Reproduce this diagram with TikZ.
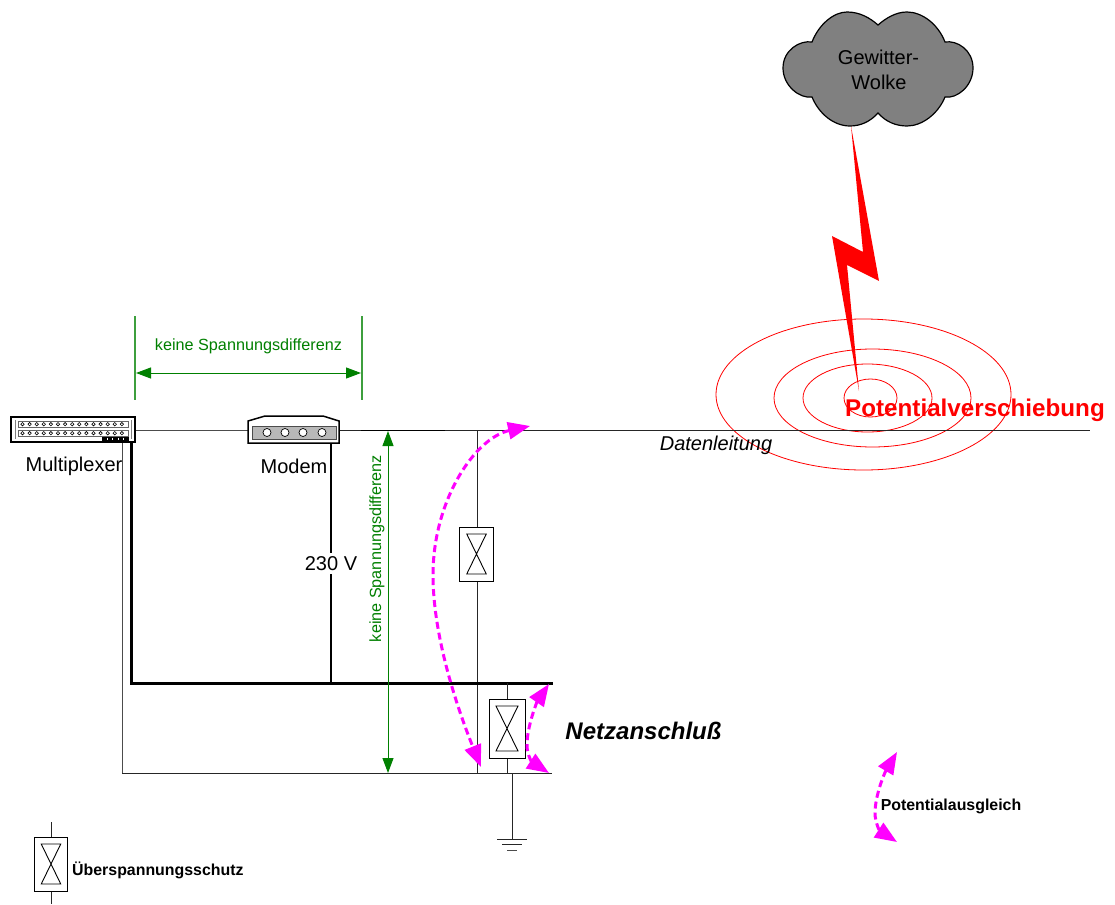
\documentclass[tikz,border=0pt]{standalone}
\usepackage{fontspec}
\setmainfont{Liberation Sans}
\usetikzlibrary{arrows.meta}
\newcommand{\fs}[1]{\fontsize{#1}{#1}\selectfont}
\definecolor{dgreen}{HTML}{008000}
\definecolor{lgreen}{HTML}{3D9F3D}
\definecolor{mag}{HTML}{FF00FF}
\definecolor{red1}{HTML}{FF0000}
\tikzset{
  x=1pt,y=-1pt,
  lbl/.style={inner sep=0pt,text=#1},
  lbl/.default=black,
  wire/.style={draw=black!85,line width=1pt},
  busbar/.style={draw=black,line width=3pt},
  medwire/.style={draw=black,line width=1.5pt},
  surge/.style={draw=black,fill=white,line width=1pt,inner sep=0pt,minimum width=#1*0.62pt,minimum height=#1*1pt,
    path picture={
      \draw[line width=.9pt] ([shift={(7pt,-7pt)}]path picture bounding box.north west)
        -- ([shift={(-7pt,7pt)}]path picture bounding box.south east)
        -- ([shift={(7pt,7pt)}]path picture bounding box.south west)
        -- ([shift={(-7pt,-7pt)}]path picture bounding box.north east) -- cycle;
    }},
  gdim/.style={draw=dgreen,line width=1pt,{Triangle[length=15pt,width=11pt]}-{Triangle[length=15pt,width=11pt]}},
  gext/.style={draw=lgreen,line width=1.1pt},
  ring/.style={draw=red1,line width=.8pt},
  equal/.style={draw=mag,line width=3pt,dash pattern=on 7pt off 4pt,
    {Triangle[length=22pt,width=17pt]}-{Triangle[length=22pt,width=17pt]}},
}
\begin{document}
\begin{tikzpicture}
\useasboundingbox (0,0) rectangle (1115,904);
\fill[white] (0,0) rectangle (1115,904);

% rings
\draw[ring] (870.5,398) ellipse [x radius=26.5,y radius=19];
\draw[ring] (867.5,398) ellipse [x radius=64.5,y radius=34];
\draw[ring] (872.5,398) ellipse [x radius=98.5,y radius=49];
\draw[ring] (863.5,394.5) ellipse [x radius=147.5,y radius=75.5];

% cloud
\path[draw=black,line width=1.2pt,fill=black!50]
  (878,25) .. controls (886,18) and (896,12) .. (907,12)
  .. controls (922,12) and (938,24) .. (945,42)
  .. controls (957,40) and (973,50) .. (973,68)
  .. controls (973,86) and (957,99) .. (945,97)
  .. controls (938,114) and (922,126) .. (907,126)
  .. controls (896,126) and (886,122) .. (878,113)
  .. controls (870,122) and (860,126) .. (850,126)
  .. controls (834,126) and (819,114) .. (812,97)
  .. controls (800,99) and (783,86) .. (783,68)
  .. controls (783,50) and (800,40) .. (812,42)
  .. controls (819,24) and (834,12) .. (847,12)
  .. controls (860,12) and (870,18) .. (878,25) -- cycle;
\node[lbl,font=\fs{20},align=center] (cloudtxt) at (878.5,57) {Gewitter-};
\node[lbl,font=\fs{20}] (cloudtxtb) at (879,82) {Wolke};

% lightning
\fill[red1] (851,126) -- (879,281) -- (847,265) -- (859,391) -- (832,236) -- (863,252) -- cycle;

% coordinates
\coordinate (lineEnd) at (1090,430);
\coordinate (muxR) at (135,430);
\coordinate (mdmL) at (248,430);
\coordinate (mdmR) at (339,430);
\coordinate (mdmB) at (331,441);
\coordinate (busL) at (131,683);
\coordinate (busR) at (553,683);
\coordinate (muxThick) at (131,441);
\coordinate (muxThin) at (122,442);
\coordinate (gndL) at (122,773);
\coordinate (gndR) at (552,773);
\coordinate (busM) at (331,683);
\coordinate (tapTop) at (477,430);
\coordinate (tapBot) at (477,773);
\coordinate (sp2Top) at (507,683);
\coordinate (sp2Bot) at (507,773);
\coordinate (earthTop) at (512,773);
\coordinate (earth) at (512,839);
\coordinate (dark1) at (361,430);
\coordinate (dark2) at (445,430);

% wires
\draw[draw=black!70,line width=1pt] (muxR) -- (mdmL);
\draw[wire] (mdmR) -- (lineEnd);
\draw[draw=black,line width=1pt] (dark1) -- (dark2);
\draw[wire,draw=black!70] (muxThin) -- (gndL);
\draw[wire] (gndL) -- (gndR);
\draw[wire] (tapTop) -- (tapBot);
\draw[medwire] (mdmB) -- (busM);
\draw[busbar] (muxThick) -- (busL) -- (busR);
\draw[wire] (sp2Top) -- (sp2Bot);
\draw[wire] (earthTop) -- (earth);
\draw[wire] (497,839) -- (527,839);
\draw[wire] (502,844) -- (522,844);
\draw[wire,draw=black!70] (507,850) -- (517,850);

% surge protectors
\node[surge=54] (sp1) at (476.5,554) {};
\node[surge=59,minimum width=36pt] (sp2) at (507,728.5) {};
\coordinate (legT) at (51,822);
\coordinate (legB) at (51,904);
\draw[wire] (legT) -- (legB);
\node[surge=54] (sp3) at (51,864) {};

% multiplexer
\node[draw=black,fill=white,line width=1.6pt,minimum width=124pt,minimum height=25pt,inner sep=0pt] (mux) at (73,429.5) {};
\draw[draw=black!60,line width=.9pt] (18,421.5) rectangle (128,427);
\draw[draw=black!60,line width=.9pt] (18,430.5) rectangle (128,436);
\foreach \i in {0,...,14}{
  \draw[line width=.6pt,fill=white] (22.5+\i*7.1,424.2) circle (1.7);
  \draw[line width=.6pt,fill=white] (22.5+\i*7.1,433.2) circle (1.7);
}
\draw[draw=black!50,line width=1pt] (15,420) -- (15,439);
\draw[draw=black!50,line width=1pt] (131,420) -- (131,439);
\fill[black] (102,437) rectangle (129,441);
\foreach \xx in {107,112.5,118,123.5}{\draw[white,line width=.5pt] (\xx,437.5) -- (\xx,440);}

% modem
\path[draw=black,fill=white,line width=1.5pt] (248,421) -- (265,416) -- (323,416) -- (339,421) -- (339,443) -- (248,443) -- cycle;
\node[draw=black!70,fill=black!28,line width=.7pt,minimum width=84pt,minimum height=13pt,inner sep=0pt] (mdm) at (294,432.5) {};
\foreach \xx in {267,285,303,322}{\draw[line width=.7pt,fill=white] (\xx,432.5) circle (4);}

% green dimension
\coordinate (eL1) at (135,316); \coordinate (eL2) at (135,400);
\coordinate (eR1) at (362,316); \coordinate (eR2) at (362,400);
\coordinate (dL) at (136,373); \coordinate (dR) at (361,373);
\coordinate (vT) at (388,431); \coordinate (vB) at (388,773);
\draw[gext] (eL1) -- (eL2);
\draw[gext] (eR1) -- (eR2);
\draw[gdim] (dL) -- (dR);
\draw[gdim] (vT) -- (vB);

% magenta arrows
\coordinate (a1) at (530,426); \coordinate (a2) at (481,767);
\draw[equal] (a1) .. controls (475,438) and (433,500) .. (433,575) .. controls (433,640) and (460,715) .. (a2);
\coordinate (b1) at (549,684); \coordinate (b2) at (549,773);
\draw[equal] (b1) .. controls (538,700) and (527,725) .. (527,745) .. controls (527,755) and (532,762) .. (b2);
\coordinate (c1) at (897,752); \coordinate (c2) at (897,842);
\draw[equal] (c1) .. controls (885,772) and (875,795) .. (875,813) .. controls (875,823) and (880,831) .. (c2);

% labels
\node[lbl=dgreen,font=\fs{16.2}] (t1) at (248.5,346.5) {keine Spannungsdifferenz};
\node[lbl=dgreen,font=\fs{16.2},rotate=90] (t2) at (377,548.5) {keine Spannungsdifferenz};
\node[lbl,font=\fs{20}] (t3) at (74,466.5) {Multiplexer};
\node[lbl,font=\fs{20}] (t4) at (294,466.5) {Modem};
\node[lbl,fill=white,inner ysep=3pt,font=\fs{20}] (t5) at (331,563.5) {230 V};
\node[lbl,font=\itshape\fs{20}] (t6) at (716,445.5) {Datenleitung};
\node[lbl=red1,font=\bfseries\fs{24.2}] (t7) at (975,410) {Potentialverschiebung};
\node[lbl,font=\bfseries\itshape\fs{24}] (t8) at (643.5,731) {Netzanschluß};
\node[lbl,font=\bfseries\fs{15.9}] (t9) at (951,806) {Potentialausgleich};
\node[lbl,font=\bfseries\fs{15.9},anchor=west] (t10) at (72,870) {Überspannungsschutz};
\end{tikzpicture}
\end{document}
